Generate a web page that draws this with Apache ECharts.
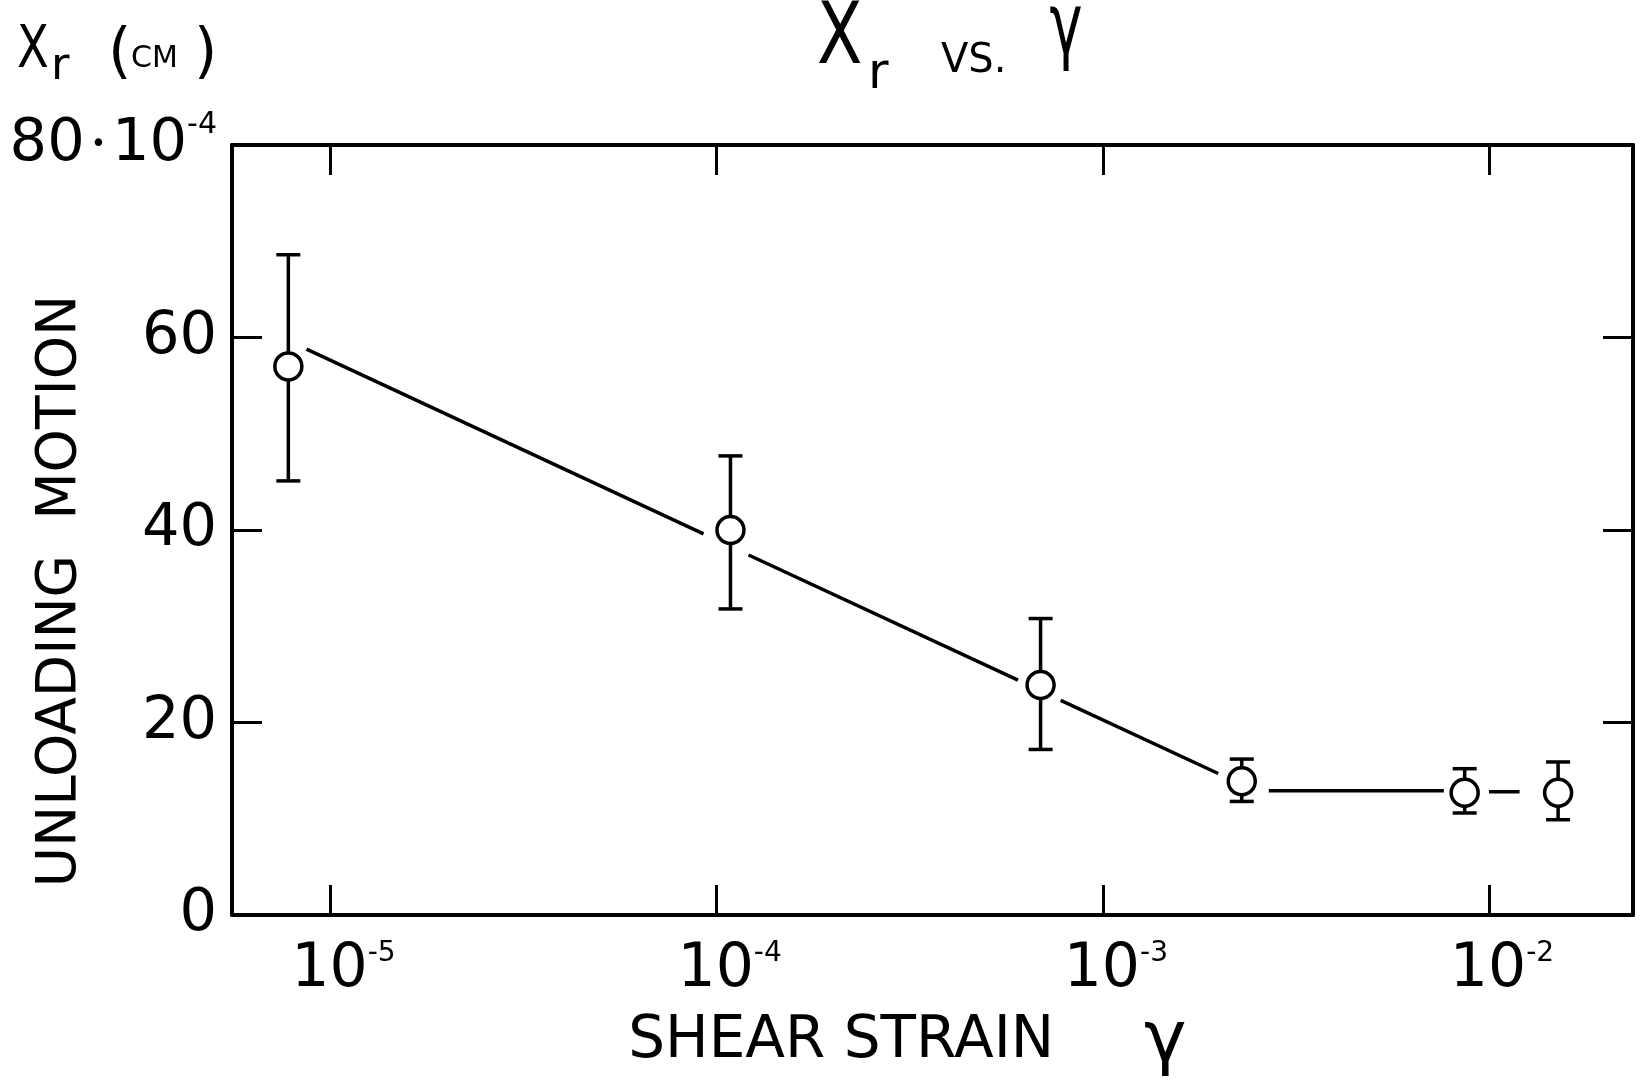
<!DOCTYPE html>
<html><head><meta charset="utf-8">
<script src="https://cdn.jsdelivr.net/npm/echarts@6/dist/echarts.min.js"></script>
<style>html,body{margin:0;padding:0;background:#fff}#c{width:1642px;height:1081px}</style>
</head><body><div id="c"></div>
<script>
// ---- data ----
const strain   = [7.78e-6, 1.086e-4, 6.90e-4, 2.29e-3, 8.65e-3, 1.51e-2];
const motion   = [57.0, 40.0, 23.9, 13.9, 12.7, 12.7];
const errLow   = [45.1, 31.8, 17.2, 11.8, 10.6, 9.9];
const errHigh  = [68.6, 47.7, 30.8, 16.2, 15.2, 15.9];
// hand-drawn trend line, broken into segments around the markers
const lineStartX = [8.67e-6, 1.21e-4, 7.78e-4, 2.69e-3, 1.00e-2];
const lineStartY = [58.8, 37.4, 22.3, 12.9, 12.8];
const lineEndX   = [9.25e-5, 6.03e-4, 1.99e-3, 7.64e-3, 1.20e-2];
const lineEndY   = [39.6, 24.4, 14.7, 12.9, 12.8];
// axes
const yTickValues = [0, 20, 40, 60, 80];
const yTopUnit = ['10', '-4'];
const xTickExponents = [-5, -4, -3, -2];   // decades of shear strain (log10)
const xRange = [5.56e-6, 2.36e-2];
const yAxisTitle = 'UNLOADING  MOTION';
const xAxisTitle = 'SHEAR STRAIN';

const FONT = 'DejaVu Sans';
const BLACK = '#000';
const lg = v => Math.log10(v);

const lineData = [];
lineStartX.forEach((x, i) => {
  lineData.push([lg(x), lineStartY[i]], [lg(lineEndX[i]), lineEndY[i]], ['-', '-']);
});

const axisLineStyle = { color: BLACK, width: 4 };
const tickStyle = { color: BLACK, width: 3 };

const xAxisBase = {
  type: 'value', min: lg(xRange[0]), max: lg(xRange[1]),
  splitLine: { show: false }, minorTick: { show: false },
  axisLine: { show: true, onZero: false, lineStyle: axisLineStyle },
  axisTick: { show: true, inside: true, length: 30, lineStyle: tickStyle, customValues: xTickExponents }
};
const yAxisBase = {
  type: 'value', min: yTickValues[0], max: yTickValues[yTickValues.length - 1],
  interval: yTickValues[1] - yTickValues[0],
  splitLine: { show: false },
  axisLine: { show: true, onZero: false, lineStyle: axisLineStyle },
  axisTick: { show: true, inside: true, length: 30, lineStyle: tickStyle }
};

const option = {
  animation: false,
  backgroundColor: '#fff',
  grid: { left: 232, right: 9, top: 145, bottom: 166, containLabel: false, outerBoundsMode: 'none' },
  xAxis: [
    Object.assign({}, xAxisBase, {
      position: 'bottom',
      name: '{t|' + xAxisTitle + '}{g|γ}', nameLocation: 'middle', nameGap: 91,
      nameMoveOverlap: false,
      nameTextStyle: {
        fontFamily: FONT, fontSize: 58, color: BLACK, padding: [0, 50, 0, 0],
        rich: {
          t: { fontFamily: FONT, fontSize: 58, lineHeight: 72, color: BLACK, verticalAlign: 'middle' },
          g: { fontFamily: FONT, fontSize: 72, lineHeight: 72, color: BLACK, verticalAlign: 'middle', padding: [0, 0, 0, 90] }
        }
      },
      axisLabel: {
        show: true, margin: 25, customValues: xTickExponents,
        padding: [0, 0, 0, 26],
        formatter: v => '{b|10}{e|' + Math.round(v) + '}',
        rich: {
          b: { fontFamily: FONT, fontSize: 60, lineHeight: 60, color: BLACK },
          e: { fontFamily: FONT, fontSize: 28, lineHeight: 30, verticalAlign: 'top', color: BLACK }
        }
      }
    }),
    Object.assign({}, xAxisBase, { position: 'top', axisLabel: { show: false } })
  ],
  yAxis: [
    Object.assign({}, yAxisBase, {
      position: 'left',
      axisLabel: {
        show: true, margin: 15,
        formatter: v => v === yTickValues[yTickValues.length - 1]
          ? '{n|' + v + '}{d|•}{n|' + yTopUnit[0] + '}{e|' + yTopUnit[1] + '}'
          : '{n|' + v + '}',
        rich: {
          n: { fontFamily: FONT, fontSize: 59, lineHeight: 70, color: BLACK },
          d: { fontFamily: FONT, fontSize: 26, lineHeight: 70, color: BLACK, padding: [0, 6, 0, 6] },
          e: { fontFamily: FONT, fontSize: 30, lineHeight: 30, verticalAlign: 'top', color: BLACK }
        }
      }
    }),
    Object.assign({}, yAxisBase, { position: 'right', axisLabel: { show: false } })
  ],
  graphic: [
    // y-axis title (rotated)
    { type: 'text', x: 61, y: 591, rotation: Math.PI / 2,
      style: { text: yAxisTitle, fontFamily: FONT, fontSize: 55, fill: BLACK, align: 'center', verticalAlign: 'middle' } },
    // title  X_r vs. γ
    { type: 'text', x: 817, y: 41, scaleX: 0.78, style: { text: 'X', fontFamily: FONT, fontSize: 85, fill: BLACK, align: 'left', verticalAlign: 'middle' } },
    { type: 'text', x: 868, y: 75, style: { text: 'r', fontFamily: FONT, fontSize: 50, fill: BLACK, align: 'left', verticalAlign: 'middle' } },
    { type: 'text', x: 941, y: 62, style: { text: 'VS.', fontFamily: FONT, fontSize: 40, fill: BLACK, align: 'left', verticalAlign: 'middle' } },
    { type: 'text', x: 1066, y: 31, scaleX: 0.65, style: { text: 'γ', fontFamily: FONT, fontSize: 86, fill: BLACK, align: 'center', verticalAlign: 'middle' } },
    // unit label  X_r (CM)
    { type: 'text', x: 17, y: 52, scaleX: 0.8, style: { text: 'X', fontFamily: FONT, fontSize: 58, fill: BLACK, align: 'left', verticalAlign: 'middle' } },
    { type: 'text', x: 51, y: 67, style: { text: 'r', fontFamily: FONT, fontSize: 45, fill: BLACK, align: 'left', verticalAlign: 'middle' } },
    { type: 'text', x: 108, y: 55, style: { text: '(', fontFamily: FONT, fontSize: 60, fill: BLACK, align: 'left', verticalAlign: 'middle' } },
    { type: 'text', x: 131, y: 59, style: { text: 'CM', fontFamily: FONT, fontSize: 30, fill: BLACK, align: 'left', verticalAlign: 'middle' } },
    { type: 'text', x: 194, y: 55, style: { text: ')', fontFamily: FONT, fontSize: 60, fill: BLACK, align: 'left', verticalAlign: 'middle' } }
  ],
  series: [
    {
      name: 'trend', type: 'line', xAxisIndex: 0, yAxisIndex: 0,
      data: lineData, showSymbol: false, symbol: 'none', connectNulls: false,
      lineStyle: { color: BLACK, width: 3.5 }, z: 1, silent: true
    },
    {
      name: 'error', type: 'custom', xAxisIndex: 0, yAxisIndex: 0,
      data: strain.map((x, i) => [lg(x), errLow[i], errHigh[i]]),
      encode: { x: 0, y: [1, 2] },
      renderItem: (params, api) => {
        const lo = api.coord([api.value(0), api.value(1)]);
        const hi = api.coord([api.value(0), api.value(2)]);
        const w = 12;
        const style = { stroke: BLACK, lineWidth: 3.5, fill: null };
        return {
          type: 'group', children: [
            { type: 'line', shape: { x1: lo[0], y1: lo[1], x2: hi[0], y2: hi[1] }, style },
            { type: 'line', shape: { x1: lo[0] - w, y1: lo[1], x2: lo[0] + w, y2: lo[1] }, style },
            { type: 'line', shape: { x1: hi[0] - w, y1: hi[1], x2: hi[0] + w, y2: hi[1] }, style }
          ]
        };
      },
      z: 2, silent: true
    },
    {
      name: 'points', type: 'scatter', xAxisIndex: 0, yAxisIndex: 0,
      data: strain.map((x, i) => [lg(x), motion[i]]),
      symbol: 'circle', symbolSize: 27,
      itemStyle: { color: '#fff', borderColor: BLACK, borderWidth: 3.5, opacity: 1 },
      z: 3, silent: true
    }
  ]
};

const chart = echarts.init(document.getElementById('c'), null, { renderer: 'canvas' });
chart.setOption(option);
</script>
</body></html>
